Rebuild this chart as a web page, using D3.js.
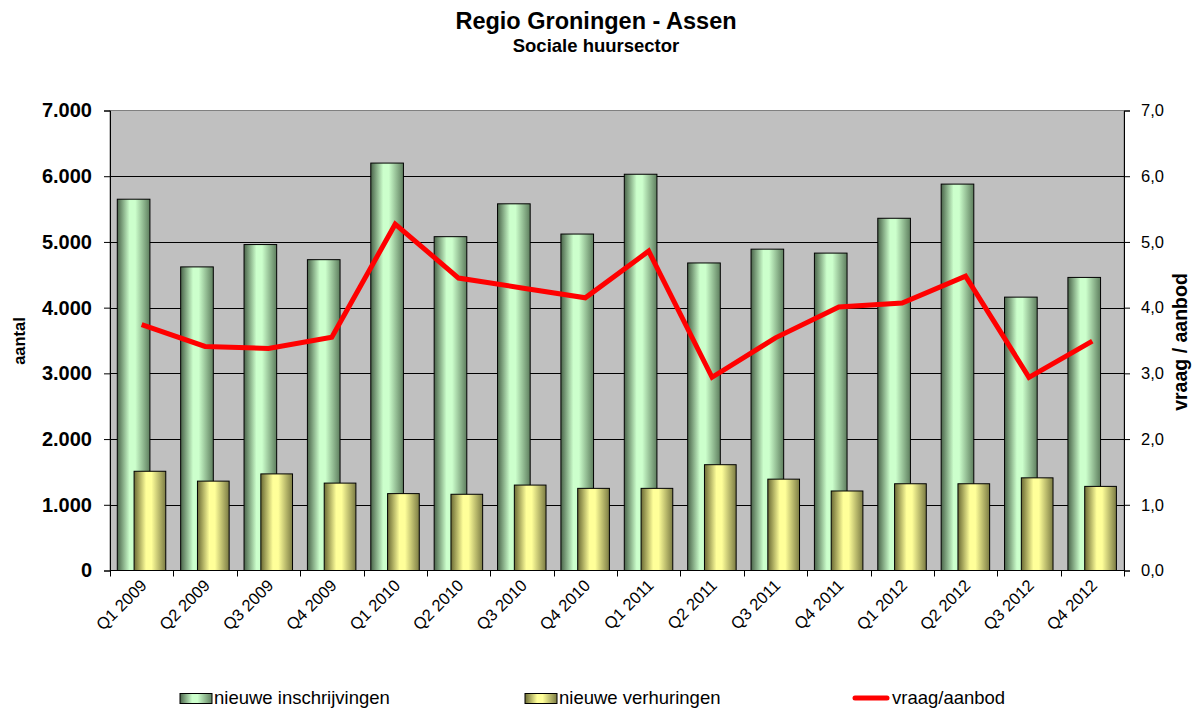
<!DOCTYPE html>
<html>
<head>
<meta charset="utf-8">
<title>Regio Groningen - Assen</title>
<script src="https://cdn.jsdelivr.net/npm/d3@7/dist/d3.min.js"></script>
<style>
  body { margin: 0; background: #fff; }
  text { font-family: "Liberation Sans", Arial, sans-serif; fill: #000; }
</style>
</head>
<body>
<div id="chart"></div>
<script>
// data
var quarters = ["Q1 2009", "Q2 2009", "Q3 2009", "Q4 2009",
                "Q1 2010", "Q2 2010", "Q3 2010", "Q4 2010",
                "Q1 2011", "Q2 2011", "Q3 2011", "Q4 2011",
                "Q1 2012", "Q2 2012", "Q3 2012", "Q4 2012"];
var inschrijvingen = [5650, 4620, 4960, 4730, 6200, 5080, 5580, 5120,
                      6030, 4680, 4890, 4830, 5360, 5880, 4160, 4460];
var verhuringen = [1510, 1360, 1470, 1330, 1170, 1160, 1300, 1250,
                   1250, 1610, 1390, 1210, 1320, 1320, 1410, 1280];
var vraagAanbod = [3.74, 3.41, 3.38, 3.55, 5.27, 4.45, 4.30, 4.15,
                   4.86, 2.94, 3.54, 4.01, 4.07, 4.48, 2.94, 3.49];
var leftTicks = [0, 1000, 2000, 3000, 4000, 5000, 6000, 7000];
var rightTicks = [0, 1, 2, 3, 4, 5, 6, 7];
var legendNames = ["nieuwe inschrijvingen", "nieuwe verhuringen", "vraag/aanbod"];

var w = 1192, h = 710;
var plot = { left: 110, right: 1124, top: 110.5, bottom: 570.5 };

var nl = d3.formatLocale({ decimal: ",", thousands: ".", grouping: [3], currency: ["€", ""] });
var fmtLeft = nl.format(",.0f");
var fmtRight = nl.format(".1f");

var svg = d3.select("#chart").append("svg")
    .attr("width", w)
    .attr("height", h);

var defs = svg.append("defs");
function grad(id, edgeL, mid, edgeR) {
    var g = defs.append("linearGradient").attr("id", id)
        .attr("x1", "0%").attr("x2", "100%").attr("y1", "0%").attr("y2", "0%");
    g.append("stop").attr("offset", "0%").attr("stop-color", edgeL);
    g.append("stop").attr("offset", "38%").attr("stop-color", mid);
    g.append("stop").attr("offset", "55%").attr("stop-color", mid);
    g.append("stop").attr("offset", "100%").attr("stop-color", edgeR);
}
grad("gGreen", "#4a644a", "#ccffcc", "#5e7e5e");
grad("gYellow", "#6a6a34", "#ffff99", "#7c7c44");

var x = d3.scaleBand().domain(quarters).range([plot.left, plot.right]).padding(0);
var y = d3.scaleLinear().domain([0, 7000]).range([plot.bottom, plot.top]);
var y2 = d3.scaleLinear().domain([0, 7]).range([plot.bottom, plot.top]);
var bw = x.bandwidth();

// plot background
svg.append("rect")
    .attr("x", plot.left).attr("y", plot.top)
    .attr("width", plot.right - plot.left).attr("height", plot.bottom - plot.top)
    .attr("fill", "#c0c0c0")
    .attr("stroke", "#808080");

// gridlines
svg.append("g").selectAll("line")
    .data(leftTicks.slice(1, -1))
    .enter().append("line")
    .attr("x1", plot.left).attr("x2", plot.right)
    .attr("y1", d => Math.round(y(d)) + 0.5).attr("y2", d => Math.round(y(d)) + 0.5)
    .attr("stroke", "#000")
    .attr("stroke-width", 1);

// bars
svg.append("g").selectAll("rect")
    .data(inschrijvingen)
    .enter().append("rect")
    .attr("x", (d, i) => x(quarters[i]) + bw * 0.115)
    .attr("y", d => y(d))
    .attr("width", bw * 0.515)
    .attr("height", d => y(0) - y(d))
    .attr("fill", "url(#gGreen)")
    .attr("stroke", "#000");

svg.append("g").selectAll("rect")
    .data(verhuringen)
    .enter().append("rect")
    .attr("x", (d, i) => x(quarters[i]) + bw * 0.38)
    .attr("y", d => y(d))
    .attr("width", bw * 0.5)
    .attr("height", d => y(0) - y(d))
    .attr("fill", "url(#gYellow)")
    .attr("stroke", "#000");

// ratio line
var line = d3.line()
    .x((d, i) => x(quarters[i]) + bw / 2)
    .y(d => y2(d));
svg.append("path")
    .datum(vraagAanbod)
    .attr("d", line)
    .attr("fill", "none")
    .attr("stroke", "#ff0000")
    .attr("stroke-width", 5)
    .attr("stroke-linejoin", "miter");

// axes
var left = svg.append("g")
    .attr("transform", "translate(" + plot.left + ",0)")
    .call(d3.axisLeft(y).tickValues(leftTicks).tickFormat(fmtLeft).tickSizeOuter(0).tickSize(6).tickPadding(12));
left.selectAll("text").attr("font-size", 20).attr("font-weight", "bold");

var right = svg.append("g")
    .attr("transform", "translate(" + plot.right + ",0)")
    .call(d3.axisRight(y2).tickValues(rightTicks).tickFormat(fmtRight).tickSizeOuter(0).tickSize(6).tickPadding(11));
right.selectAll("text").attr("font-size", 16.5);

var bottom = svg.append("g")
    .attr("transform", "translate(0," + plot.bottom + ")");
bottom.append("line")
    .attr("x1", plot.left).attr("x2", plot.right)
    .attr("y1", 0).attr("y2", 0).attr("stroke", "#000");
bottom.selectAll("line.tick")
    .data(quarters.concat(["end"]))
    .enter().append("line")
    .attr("class", "tick")
    .attr("x1", (d, i) => Math.round(plot.left + i * bw) + 0.5)
    .attr("x2", (d, i) => Math.round(plot.left + i * bw) + 0.5)
    .attr("y1", 0).attr("y2", 6)
    .attr("stroke", "#000");
bottom.selectAll("text")
    .data(quarters)
    .enter().append("text")
    .attr("transform", d => "translate(" + (x(d) + bw / 2 + 6) + ",16) rotate(-45)")
    .attr("text-anchor", "end")
    .attr("font-size", 16.5)
    .text(d => d);

[left, right].forEach(g => g.selectAll("path, line").attr("stroke", "#000"));

// titles
svg.append("text")
    .attr("x", 596).attr("y", 29)
    .attr("text-anchor", "middle")
    .attr("font-size", 23.5).attr("font-weight", "bold")
    .text("Regio Groningen - Assen");
svg.append("text")
    .attr("x", 596).attr("y", 52)
    .attr("text-anchor", "middle")
    .attr("font-size", 18.5).attr("font-weight", "bold")
    .text("Sociale huursector");

svg.append("text")
    .attr("transform", "translate(25,341) rotate(-90)")
    .attr("text-anchor", "middle")
    .attr("font-size", 16.5).attr("font-weight", "bold")
    .text("aantal");
svg.append("text")
    .attr("transform", "translate(1187,342) rotate(-90)")
    .attr("text-anchor", "middle")
    .attr("font-size", 19.5).attr("font-weight", "bold")
    .text("vraag / aanbod");

// legend (kept just inside the bottom edge)
var legendX = [180, 525, 853];
var lg = svg.append("g");
legendNames.forEach((name, i) => {
    if (i < 2) {
        lg.append("rect")
            .attr("x", legendX[i]).attr("y", 693.5)
            .attr("width", 32).attr("height", 10)
            .attr("fill", i === 0 ? "url(#gGreen)" : "url(#gYellow)")
            .attr("stroke", "#000");
    } else {
        lg.append("line")
            .attr("x1", legendX[i] + 2).attr("x2", legendX[i] + 34)
            .attr("y1", 698).attr("y2", 698)
            .attr("stroke", "#ff0000").attr("stroke-width", 5)
            .attr("stroke-linecap", "round");
    }
    lg.append("text")
        .attr("x", legendX[i] + (i < 2 ? 34 : 39)).attr("y", 704)
        .attr("font-size", 18.5)
        .text(name);
});
</script>
</body>
</html>
